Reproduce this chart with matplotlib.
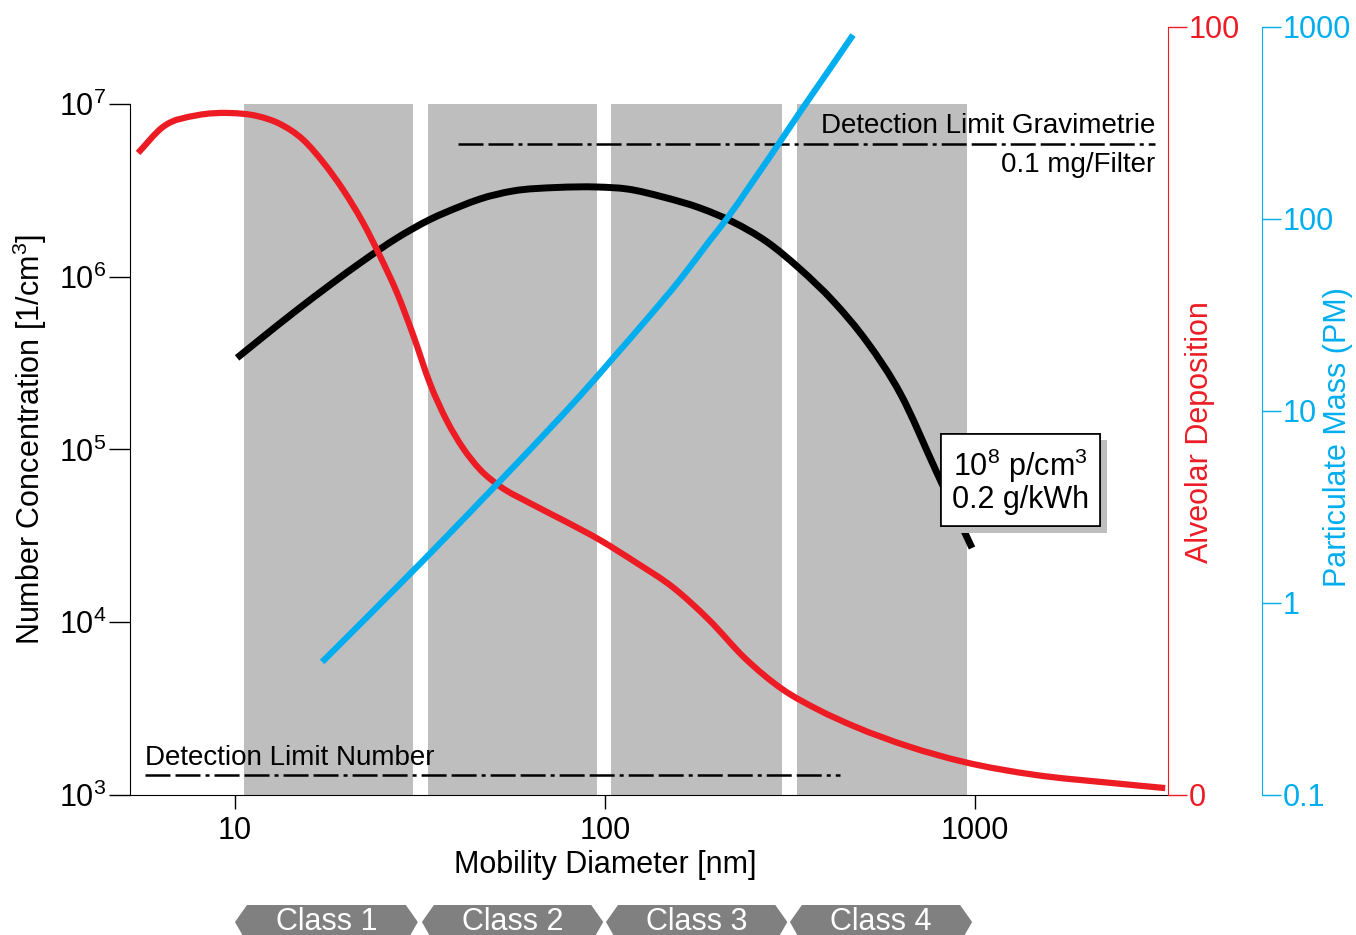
import matplotlib
matplotlib.use('Agg')
import matplotlib.pyplot as plt
import matplotlib.patheffects as pe
from matplotlib.patches import Polygon, PathPatch
from matplotlib.path import Path
from matplotlib.ticker import NullLocator
from matplotlib.transforms import blended_transform_factory
import numpy as np

plt.rcParams['font.family'] = 'Liberation Sans'
plt.rcParams['mathtext.fontset'] = 'custom'
plt.rcParams['mathtext.rm'] = 'Liberation Sans'
plt.rcParams['mathtext.it'] = 'Liberation Sans:italic'
plt.rcParams['mathtext.bf'] = 'Liberation Sans:bold'
plt.rcParams['lines.scale_dashes'] = False

RED = '#ed1c24'
BLUE = '#00aeef'
GREY = '#bebebe'
TAG = '#808080'
FS = 22
FS_NOTE = 20

# number size distribution [1/cm3]
num_d = [10.13, 11.9, 14.71, 18.06, 22.18, 27.41, 33.65, 40.57, 45.94, 56.41, 74.19,
         95.15, 114.7, 143.5, 180.6, 221.8, 274.1, 336.5, 413.3, 510.7, 627.0, 789.3,
         981.5]
num_conc = [3.39e5, 4.48e5, 6.42e5, 8.96e5, 1.234e6, 1.676e6, 2.145e6, 2.551e6,
            2.819e6, 3.136e6, 3.286e6, 3.307e6, 3.221e6, 2.894e6, 2.500e6, 2.074e6,
            1.590e6, 1.109e6, 7.237e5, 4.193e5, 2.124e5, 7.31e4, 2.69e4]

# alveolar deposition [%]
dep_d = [5.47, 6.39, 7.89, 9.69, 11.5, 13.2, 15.3, 17.3, 19.6, 22.2, 24.7, 27.4,
         30.3, 33.7, 37.4, 41.3, 45.9, 52.0, 62.7, 76.9, 96.9, 121, 153, 191, 239,
         301, 377, 474, 664, 934, 1462, 2300, 3265]
dep_pct = [83.6, 87.0, 88.5, 88.8, 88.4, 87.4, 85.3, 82.4, 78.8, 74.5, 70.1, 65.4,
           59.9, 53.5, 48.7, 45.2, 42.4, 40.2, 38.0, 35.8, 33.2, 30.3, 27.0, 22.8,
           17.8, 13.8, 11.1, 8.9, 6.3, 4.3, 2.6, 1.6, 0.9]

# particulate mass
pm_d = [17.2, 31.0, 37.4, 45.9, 56.4, 69.7, 85.6, 105, 130, 160, 192, 214, 247,
        292, 336, 398, 468]
pm_val = [0.493, 1.54, 2.23, 3.36, 5.08, 7.82, 12.0, 18.8, 30.2, 48.7, 77.3, 101,
          150, 240, 359, 576, 909]

class_names = ['Class 1', 'Class 2', 'Class 3', 'Class 4']
class_bands = [(10.56, 30.2), (33.2, 95.1), (103.8, 300.6), (329.8, 950.6)]
class_tags = [(10.0, 31.2), (32.0, 98.9), (100.6, 311), (316, 982)]

# detection limits
num_limit = 1.31e3
num_limit_span = (5.71, 432)
grav_limit = 5.86e6
grav_limit_span = (40.1, 3063)

num_ticks = [1e3, 1e4, 1e5, 1e6, 1e7]
num_ticklabels = ['$10^{3}$', '$10^{4}$', '$10^{5}$', '$10^{6}$', '$10^{7}$']
pm_ticks = [0.1, 1, 10, 100, 1000]
pm_ticklabels = ['0.1', '1', '10', '100', '1000']
d_ticks = [10, 100, 1000]

dashdot = (0, (18, 3.6, 18, 3.6, 2.9, 3.6))


def smooth_curve(axis, xs, ys, ylog=False, **kw):
    # cubic Hermite through the points, built in log/linear scale space
    u = np.log10(np.asarray(xs, float))
    v = np.log10(np.asarray(ys, float)) if ylog else np.asarray(ys, float)
    m = np.gradient(v, u)
    verts = [(u[0], v[0])]
    codes = [Path.MOVETO]
    for i in range(len(u) - 1):
        h = u[i + 1] - u[i]
        verts += [(u[i] + h / 3, v[i] + m[i] * h / 3),
                  (u[i + 1] - h / 3, v[i + 1] - m[i + 1] * h / 3),
                  (u[i + 1], v[i + 1])]
        codes += [Path.CURVE4] * 3
    verts = np.array(verts)
    verts[:, 0] = 10 ** verts[:, 0]
    if ylog:
        verts[:, 1] = 10 ** verts[:, 1]
    patch = PathPatch(Path(verts, codes), fill=False, capstyle='butt', **kw)
    axis.add_patch(patch)
    return patch


fig = plt.figure(figsize=(13.56, 9.35), dpi=100)
ax = fig.add_axes([130 / 1356, 140 / 935, 1038 / 1356, 768 / 935])

ax.set_xscale('log')
ax.set_yscale('log')
ax.set_xlim(5.203, 3323)
ax.set_ylim(1e3, 2.79e7)
for s in ['top', 'right']:
    ax.spines[s].set_visible(False)
ax.spines['left'].set_bounds(1e3, 1e7)
ax.xaxis.set_minor_locator(NullLocator())
ax.yaxis.set_minor_locator(NullLocator())
ax.set_yticks(num_ticks)
ax.set_yticklabels(num_ticklabels)
ax.set_xticks(d_ticks)
ax.set_xticklabels([str(t) for t in d_ticks])
ax.tick_params(axis='y', length=15, width=1, pad=2, labelsize=FS)
ax.tick_params(axis='x', length=10, width=1, pad=5, labelsize=FS)

# size classes
for lo, hi in class_bands:
    ax.fill_between([lo, hi], 1e3, 1e7, color=GREY, lw=0, zorder=0)

smooth_curve(ax, num_d, num_conc, ylog=True, ec='black', lw=5, zorder=3)

ax.plot(num_limit_span, [num_limit] * 2, color='black', lw=1.8, ls=dashdot, zorder=2)
ax.annotate('Detection Limit Number', (num_limit_span[0], num_limit),
            xytext=(0, 3), textcoords='offset points', ha='left', va='bottom',
            fontsize=FS_NOTE)
ax.plot(grav_limit_span, [grav_limit] * 2, color='black', lw=1.8, ls=dashdot, zorder=2)
ax.annotate('Detection Limit Gravimetrie', (grav_limit_span[1], grav_limit),
            xytext=(0, 4), textcoords='offset points', ha='right', va='bottom',
            fontsize=FS_NOTE)
ax.annotate('0.1 mg/Filter', (grav_limit_span[1], grav_limit),
            xytext=(0, -6), textcoords='offset points', ha='right', va='top',
            fontsize=FS_NOTE)

box = ax.text(1324, 6.6e4, '10$^8$ p/cm$^3$\n0.2 g/kWh', ha='center', va='center',
              fontsize=FS, multialignment='center', linespacing=1.0, zorder=6,
              bbox=dict(boxstyle='square,pad=0.36', fc='white', ec='black', lw=1.2))
box.get_bbox_patch().set_path_effects(
    [pe.withSimplePatchShadow(offset=(5, -5), shadow_rgbFace=GREY, alpha=1.0), pe.Normal()])

ax.set_xlabel('Mobility Diameter [nm]', fontsize=FS)
ax.xaxis.set_label_coords((605 - 130) / 1038, (795 - 865) / 768)
ax.xaxis.label.set_va('center')
ax.set_ylabel('Number Concentration [1/cm$^3$]', fontsize=FS)
ax.yaxis.set_label_coords((30 - 130) / 1038, (795 - 439) / 768)
ax.yaxis.label.set_va('center')

# alveolar deposition axis
axr = ax.twinx()
axr.set_ylim(0, 100)
for s in ['top', 'left', 'bottom']:
    axr.spines[s].set_visible(False)
axr.spines['right'].set_color(RED)
axr.set_yticks([0, 100])
axr.tick_params(axis='y', colors=RED, length=14, width=1, pad=1, labelsize=FS)
smooth_curve(axr, dep_d, dep_pct, ec=RED, lw=4.5)
axr.set_ylabel('Alveolar Deposition', color=RED, fontsize=FS)
axr.yaxis.set_label_coords((1200 - 130) / 1038, (795 - 432) / 768)
axr.yaxis.label.set_va('center')

# particulate mass axis
axb = ax.twinx()
axb.set_yscale('log')
axb.set_ylim(0.1, 1000)
for s in ['top', 'left', 'bottom']:
    axb.spines[s].set_visible(False)
axb.spines['right'].set_position(('axes', (1262 - 130) / 1038))
axb.spines['right'].set_color(BLUE)
axb.yaxis.set_minor_locator(NullLocator())
axb.set_yticks(pm_ticks)
axb.set_yticklabels(pm_ticklabels)
axb.tick_params(axis='y', colors=BLUE, length=14, width=1, pad=1, labelsize=FS)
smooth_curve(axb, pm_d, pm_val, ylog=True, ec=BLUE, lw=4.5)
axb.set_ylabel('Particulate Mass (PM)', color=BLUE, fontsize=FS)
axb.yaxis.set_label_coords((1338 - 130) / 1038, (795 - 437) / 768)
axb.yaxis.label.set_va('center')

# class tags under the x axis
tr = blended_transform_factory(ax.transData, fig.transFigure)
notch = 10 ** (12 / 370)
y_top, y_mid, y_bot = 30 / 935, 13 / 935, -8 / 935
for name, (lo, hi) in zip(class_names, class_tags):
    verts = [(lo, y_mid), (lo * notch, y_top), (hi / notch, y_top),
             (hi, y_mid), (hi / notch, y_bot), (lo * notch, y_bot)]
    fig.add_artist(Polygon(verts, closed=True, transform=tr, fc=TAG, ec='none',
                           clip_on=False))
    fig.text(np.sqrt(lo * hi), 13 / 935, name, transform=tr, ha='center', va='center',
             color='white', fontsize=FS)

fig.savefig('out.png', dpi=100)
